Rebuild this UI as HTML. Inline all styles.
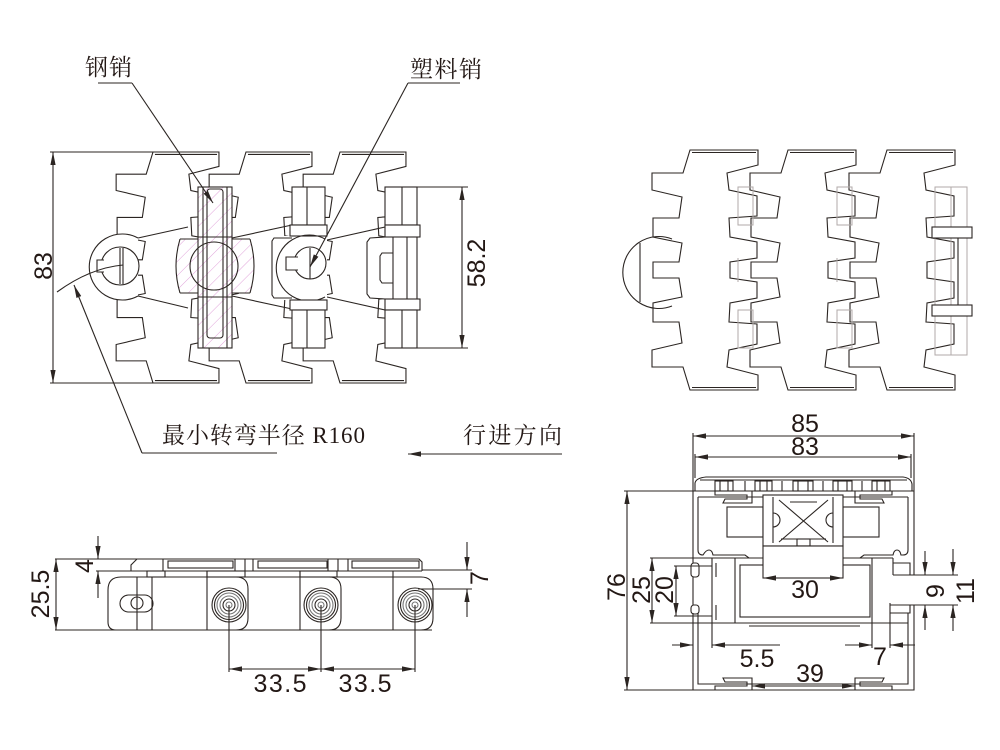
<!DOCTYPE html>
<html><head><meta charset="utf-8">
<style>
html,body{margin:0;padding:0;background:#fff;}
svg{display:block;}
.l{fill:none;stroke:#2b2522;stroke-width:1.1;}
.w{fill:#fff;stroke:#2b2522;stroke-width:1.1;}
.g{fill:none;stroke:#b0aaa8;stroke-width:1;}
.t{font-family:"Liberation Sans",sans-serif;font-size:25px;fill:#231815;}
.c{font-family:"Liberation Serif","Noto Serif CJK SC",serif;font-size:23px;fill:#231815;}
</style></head><body>
<svg width="1000" height="750" viewBox="0 0 1000 750" xmlns="http://www.w3.org/2000/svg">
<defs>
<marker id="ar" markerUnits="userSpaceOnUse" markerWidth="14" markerHeight="8" refX="13" refY="4" orient="auto-start-reverse"><path d="M0,1.4 L13,4 L0,6.6 Z" fill="#2b2522"/></marker>
<pattern id="h" patternUnits="userSpaceOnUse" width="10" height="10" patternTransform="rotate(45)"><line x1="0" y1="0" x2="0" y2="10" stroke="#de9ad6" stroke-width="0.9"/></pattern>
<path id="lk" vector-effect="non-scaling-stroke" d="M0,0 L68,0 L68,15 L37,23 L39,40 L67,46 L67,66 L39,68 L40,87 L67,92 L67,108 L40,112 L40,128 L67,132 L67,148 L40,153 L39,172 L67,174 L67,194 L39,200 L37,217 L68,225 L68,240 L0,240 L-7,217 L-38,217 L-38,200 L-8,193 L-11,172 L-37,172 L-37,153 L-8,147 L-11,128 L-37,128 L-37,112 L-11,112 L-8,93 L-37,87 L-37,68 L-11,68 L-8,47 L-38,40 L-38,23 L-7,23 Z M2,2.5 L66,2.5 M2,237.5 L66,237.5"/>
</defs>

<!-- ============ TOP LEFT VIEW ============ -->
<use href="#lk" class="l" transform="translate(153,152) scale(0.97,0.9625)"/>
<use href="#lk" class="l" transform="translate(246,152) scale(0.97,0.9625)"/>
<use href="#lk" class="l" transform="translate(340,152) scale(0.97,0.9625)"/>

<!-- 83 dim -->
<path class="l" d="M50,152 L153,152 M50,383 L153,383"/>
<line class="l" x1="53" y1="152" x2="53" y2="383" marker-start="url(#ar)" marker-end="url(#ar)"/>
<text class="t" text-anchor="middle" transform="translate(52,266) rotate(-90)">83</text>

<!-- web lines -->
<path class="l" d="M138,238 L188,227 M138,296 L188,308 M232,238 L292,225 M232,296 L292,309 M327,240 L385,227 M327,297 L385,310"/>

<!-- link A boss -->
<path class="w" d="M138,238 A33,33 0 1,0 138,296"/>
<circle class="l" cx="120" cy="266" r="19"/>
<path class="w" d="M104,260 L97,260 L97,272 L104,272"/>
<path class="l" d="M120,248 L120,284 M123,248 L123,284"/>
<!-- R160 arc -->
<path class="l" d="M57,292 Q90,268 123,265"/>

<!-- steel pin assembly -->
<path d="M180,239 Q172,266 180,293 L198,293 L198,348 L232,348 L232,293 L250,293 Q258,266 250,239 L232,239 L232,187 L198,187 L198,239 Z" fill="#fff"/>
<path d="M180,239 Q172,266 180,293 L198,293 L198,348 L232,348 L232,293 L250,293 Q258,266 250,239 L232,239 L232,187 L198,187 L198,239 Z" fill="url(#h)"/>
<path class="l" d="M180,239 Q172,266 180,293 M250,239 Q258,266 250,293 M180,239 L198,239 M180,293 L198,293 M232,239 L250,239 M232,293 L250,293"/>
<circle class="l" cx="214" cy="266" r="24" stroke-width="0.8"/>
<rect class="l" x="198" y="187" width="34" height="161"/>
<path class="l" d="M203,187 L203,348 M227,187 L227,348 M198,237 L232,237 M198,297 L232,297"/>
<rect class="l" x="207" y="189" width="16" height="149" rx="3"/>

<!-- plastic pin assembly -->
<rect x="272" y="236" width="55" height="64" fill="#fff"/>
<rect class="w" x="292" y="187" width="33" height="38"/>
<line class="l" x1="307" y1="187" x2="307" y2="225"/>
<rect class="w" x="290" y="225" width="37" height="11"/>
<path class="l" d="M292,238 L274,238 L272,241 L272,295 L274,298 L292,298"/>
<path class="l" d="M325,239 A33,33 0 1,0 325,297"/>
<circle class="w" cx="310" cy="263" r="16"/>
<path class="w" d="M298,257 L286,257 L286,270 L298,270"/>
<line class="l" x1="310" y1="248" x2="310" y2="279"/>
<rect class="w" x="290" y="300" width="37" height="10"/>
<rect class="w" x="292" y="310" width="33" height="38"/>
<line class="l" x1="307" y1="310" x2="307" y2="348"/>

<!-- end assembly -->
<rect x="367" y="237" width="53" height="62" fill="#fff"/>
<rect class="w" x="385" y="187" width="32" height="38"/>
<line class="l" x1="402" y1="187" x2="402" y2="225"/>
<rect class="w" x="385" y="225" width="35" height="12"/>
<path class="l" d="M385,237 L370,238 L367,242 L367,294 L370,298 L385,299"/>
<path class="l" d="M393,237 L393,299 M407,237 L407,299 M417,237 L417,299"/>
<path class="l" d="M393,253 L382,253 L380,256 L380,280 L382,283 L393,283"/>
<rect class="w" x="385" y="299" width="35" height="11"/>
<rect class="w" x="385" y="310" width="32" height="38"/>
<line class="l" x1="402" y1="310" x2="402" y2="348"/>

<!-- 58.2 dim -->
<path class="l" d="M417,187 L468,187 M417,348 L468,348"/>
<line class="l" x1="462" y1="187" x2="462" y2="348" marker-start="url(#ar)" marker-end="url(#ar)"/>
<text class="t" text-anchor="middle" transform="translate(485,263) rotate(-90)">58.2</text>

<!-- leaders & labels -->
<text class="c" x="85" y="75" textLength="47">钢销</text>
<line class="l" x1="98" y1="83" x2="132" y2="83"/>
<line class="l" x1="132" y1="83" x2="213" y2="203" marker-end="url(#ar)"/>
<text class="c" x="410" y="77" textLength="72">塑料销</text>
<line class="l" x1="408" y1="83" x2="460" y2="83"/>
<line class="l" x1="408" y1="83" x2="310" y2="267" marker-end="url(#ar)"/>
<text class="c" x="162" y="443" textLength="203">最小转弯半径 R160</text>
<line class="l" x1="142" y1="453" x2="277" y2="453"/>
<line class="l" x1="142" y1="453" x2="74" y2="285" marker-end="url(#ar)"/>
<text class="c" x="463" y="443" textLength="99">行进方向</text>
<line class="l" x1="562" y1="454" x2="408" y2="454" marker-end="url(#ar)"/>

<!-- ============ TOP RIGHT VIEW ============ -->
<use href="#lk" class="l" transform="translate(690,150)"/>
<use href="#lk" class="l" transform="translate(788,150)"/>
<use href="#lk" class="l" transform="translate(887,150)"/>
<path class="l" d="M672,239 A36,36 0 1,0 672,306"/>
<line class="l" x1="640" y1="243" x2="640" y2="302"/>
<!-- hidden pin ends -->
<g class="g">
<rect x="738" y="187" width="15" height="38"/><rect x="738" y="310" width="15" height="38"/>
<rect x="837" y="187" width="15" height="38"/><rect x="837" y="310" width="15" height="38"/>
<line x1="738" y1="258" x2="738" y2="282"/><line x1="837" y1="258" x2="837" y2="282"/>
<rect x="935" y="187" width="32" height="168"/>
<line x1="951" y1="187" x2="951" y2="355"/>
</g>
<rect class="w" x="932" y="227" width="40" height="11"/>
<rect class="w" x="932" y="305" width="40" height="11"/>
<line class="l" x1="958" y1="238" x2="958" y2="305"/>

<!-- ============ BOTTOM LEFT VIEW ============ -->
<g class="l">
<path d="M55,559 L137,559 M131,571 L131,565 L137,559 L419,559 L422,562 L422,571"/>
<path d="M96,571 L422,571 M422,570 L472,570"/>
<rect x="168" y="561" width="65" height="7"/>
<rect x="258" y="561" width="69" height="7"/>
<rect x="352" y="561" width="67" height="7"/>
<path d="M163,559 L163,571 M235,559 L235,571 M245,559 L245,571 M253,559 L253,571 M328,559 L328,571 M338,559 L338,571 M348,559 L348,571"/>
<rect x="147" y="571" width="18" height="6"/>
<rect x="207" y="571" width="38" height="6"/>
<rect x="300" y="571" width="37" height="6"/>
<path d="M55,630 L432,630"/>
<path d="M121,577 L421,577"/>
<path d="M121,577 Q108,577 108,590 L108,622 Q108,630 116,630"/>
<path d="M207,577 L236,577 Q248,577 248,589 L248,618 Q248,630 236,630"/>
<path d="M300,577 L329,577 Q341,577 341,589 L341,618 Q341,630 329,630"/>
<path d="M393,577 L421,577 Q433,577 433,589 L433,618 Q433,630 421,630"/>
<path d="M137,577 L137,630 M152,577 L152,630 M207,571 L207,630 M300,571 L300,630 M393,571 L393,630"/>
<rect x="120" y="595" width="33" height="17" rx="8.5"/>
<circle cx="137" cy="603" r="6"/>
<circle cx="229" cy="605" r="17"/><circle cx="229" cy="605" r="14.5"/><circle cx="229" cy="605" r="12" stroke="#777"/><circle cx="229" cy="605" r="9" stroke="#777"/><circle cx="229" cy="605" r="6"/><circle cx="229" cy="605" r="3" stroke="#777"/>
<circle cx="321" cy="605" r="17"/><circle cx="321" cy="605" r="14.5"/><circle cx="321" cy="605" r="12" stroke="#777"/><circle cx="321" cy="605" r="9" stroke="#777"/><circle cx="321" cy="605" r="6"/><circle cx="321" cy="605" r="3" stroke="#777"/>
<circle cx="415" cy="605" r="17"/><circle cx="415" cy="605" r="14.5"/><circle cx="415" cy="605" r="12" stroke="#777"/><circle cx="415" cy="605" r="9" stroke="#777"/><circle cx="415" cy="605" r="6"/><circle cx="415" cy="605" r="3" stroke="#777"/>
<path d="M229,605 L229,672 M321,605 L321,672 M415,605 L415,672 M418,589 L472,589"/>
</g>
<line class="l" x1="229" y1="669" x2="321" y2="669" marker-start="url(#ar)" marker-end="url(#ar)"/>
<line class="l" x1="321" y1="669" x2="415" y2="669" marker-start="url(#ar)" marker-end="url(#ar)"/>
<text class="t" x="280" y="692" text-anchor="middle" textLength="53">33.5</text>
<text class="t" x="365" y="692" text-anchor="middle" textLength="53">33.5</text>
<line class="l" x1="56" y1="559" x2="56" y2="630" marker-start="url(#ar)" marker-end="url(#ar)"/>
<text class="t" text-anchor="middle" transform="translate(49,594) rotate(-90)">25.5</text>
<line class="l" x1="98" y1="536" x2="98" y2="559" marker-end="url(#ar)"/>
<line class="l" x1="98" y1="598" x2="98" y2="571" marker-end="url(#ar)"/>
<text class="t" text-anchor="middle" transform="translate(93,566) rotate(-90)">4</text>
<line class="l" x1="467" y1="542" x2="467" y2="570" marker-end="url(#ar)"/>
<line class="l" x1="467" y1="617" x2="467" y2="589" marker-end="url(#ar)"/>
<text class="t" text-anchor="middle" transform="translate(488,578) rotate(-90)">7</text>

<!-- ============ BOTTOM RIGHT VIEW ============ -->
<g class="l">
<path d="M693,433 L693,491 M914,433 L914,491 M695,454 L695,478 M911,454 L911,478"/>
<path d="M695,491 L695,483 Q696,478 706,477 L903,477 Q911,478 912,484 L912,491"/>
<path d="M700,480 L907,480 M693,491 L914,491"/>
<rect x="715" y="481" width="18" height="10"/><rect x="755" y="481" width="17" height="10"/><rect x="793" y="481" width="20" height="10"/><rect x="833" y="481" width="19" height="10"/><rect x="872" y="481" width="18" height="10"/>
<path d="M720,481 L720,491 M728,481 L728,491 M760,481 L760,491 M767,481 L767,491 M798,481 L798,491 M808,481 L808,491 M838,481 L838,491 M847,481 L847,491 M877,481 L877,491 M885,481 L885,491 M745,481 L745,491 M782,481 L782,491 M823,481 L823,491 M862,481 L862,491"/>
<path d="M715,491 L715,495 L747,495 L747,499 L725,499 L723,503 L752,503 L752,491"/>
<path d="M892,491 L892,495 L860,495 L860,499 L882,499 L884,503 L855,503 L855,491"/>
<path d="M624,491 L693,491 L693,563 M693,577 L693,605 M693,613 L693,690 L914,690 L914,605 M914,575 L914,491"/>
<path d="M624,690 L693,690"/>
<rect x="691" y="563" width="8" height="14" rx="3"/>
<rect x="691" y="605" width="8" height="9" rx="3"/>
<path d="M698,497 L908,497 M698,497 L698,550 Q698,555 703,555 Q706,550 709,550 Q712,550 713,555 L745,555 L749,558 L860,558 L864,555 L893,555 Q894,550 897,550 Q900,550 901,555 L903,555 Q908,555 908,550 L908,497"/>
<path d="M712,558 L749,558 M860,558 L893,558 M712,623 L893,623"/>
<rect x="740" y="565" width="130" height="52"/>
<path d="M712,558 L712,648 M735,558 L735,623 M716,563 L716,577 M716,605 L716,620 M872,558 L872,648 M893,558 L893,575 M890,603 L890,648"/>
<path d="M893,563 L910,563 L910,575 M893,575 L958,575 M890,605 L958,605 M890,613 L910,613 L910,605"/>
<path d="M698,613 L698,684 L908,684 L908,613 M698,623 L712,623 M893,623 L908,623 M749,626 L860,626"/>
<path d="M715,690 L715,686 L747,686 L747,682 L725,682 L723,678 L752,678 L752,690"/>
<path d="M892,690 L892,686 L860,686 L860,682 L882,682 L884,678 L855,678 L855,690"/>
<rect class="w" x="727" y="507" width="36" height="30"/>
<rect class="w" x="843" y="507" width="36" height="30"/>
<rect class="w" x="763" y="495" width="80" height="51"/>
<path d="M773,497 L773,543 M833,497 L833,543 M779,500 L828,542 M828,500 L779,542 M790,502 L817,502 M781,539 L826,539"/>
<path d="M773,513 A7,7 0 0,1 773,527 M833,513 A7,7 0 0,0 833,527"/>
<rect x="797" y="539" width="13" height="7"/>
<rect class="w" x="763" y="546" width="80" height="32"/>
<path d="M650,558 L712,558 M650,623 L712,623 M674,566 L712,566 M674,616 L712,616"/>
</g>
<line class="l" x1="693" y1="436" x2="914" y2="436" marker-start="url(#ar)" marker-end="url(#ar)"/>
<line class="l" x1="695" y1="457" x2="911" y2="457" marker-start="url(#ar)" marker-end="url(#ar)"/>
<text class="t" x="805" y="432" text-anchor="middle">85</text>
<text class="t" x="805" y="455" text-anchor="middle">83</text>
<line class="l" x1="627" y1="491" x2="627" y2="690" marker-start="url(#ar)" marker-end="url(#ar)"/>
<text class="t" text-anchor="middle" transform="translate(625,587) rotate(-90)">76</text>
<line class="l" x1="652" y1="558" x2="652" y2="623" marker-start="url(#ar)" marker-end="url(#ar)"/>
<text class="t" text-anchor="middle" transform="translate(650,590) rotate(-90)">25</text>
<line class="l" x1="676" y1="566" x2="676" y2="616" marker-start="url(#ar)" marker-end="url(#ar)"/>
<text class="t" text-anchor="middle" transform="translate(673,590) rotate(-90)">20</text>
<line class="l" x1="763" y1="578" x2="843" y2="578" marker-start="url(#ar)" marker-end="url(#ar)"/>
<text class="t" x="805" y="598" text-anchor="middle">30</text>
<line class="l" x1="925" y1="551" x2="925" y2="575" marker-end="url(#ar)"/>
<line class="l" x1="925" y1="630" x2="925" y2="605" marker-end="url(#ar)"/>
<line class="l" x1="953" y1="549" x2="953" y2="575" marker-end="url(#ar)"/>
<line class="l" x1="953" y1="631" x2="953" y2="605" marker-end="url(#ar)"/>
<text class="t" text-anchor="middle" transform="translate(944,591) rotate(-90)">9</text>
<text class="t" text-anchor="middle" transform="translate(974,591) rotate(-90)">11</text>
<line class="l" x1="672" y1="645" x2="693" y2="645" marker-end="url(#ar)"/>
<line class="l" x1="780" y1="645" x2="712" y2="645" marker-end="url(#ar)"/>
<text class="t" x="757" y="667" text-anchor="middle">5.5</text>
<line class="l" x1="845" y1="645" x2="872" y2="645" marker-end="url(#ar)"/>
<line class="l" x1="915" y1="645" x2="890" y2="645" marker-end="url(#ar)"/>
<text class="t" x="880" y="665" text-anchor="middle">7</text>
<line class="l" x1="752" y1="686" x2="855" y2="686" marker-start="url(#ar)" marker-end="url(#ar)"/>
<text class="t" x="810" y="682" text-anchor="middle">39</text>
</svg>
</body></html>
